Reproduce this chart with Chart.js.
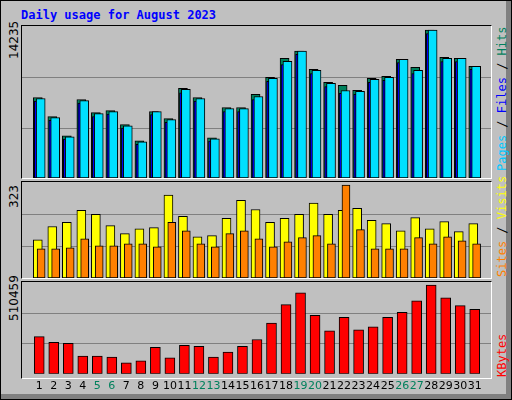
<!DOCTYPE html>
<html>
<head>
<meta charset="utf-8">
<script src="https://cdn.jsdelivr.net/npm/chart.js@4/dist/chart.umd.min.js"></script>
<style>
  body { margin: 0; background: #fff; }
  #box { position: relative; width: 510px; height: 398px; border: 1px solid #000; background: #c0c0c0;
         box-shadow: inset -5px -5px 0 #808080; overflow: hidden; }
  #title { position: absolute; left: 20px; top: 7px; font: bold 12px "DejaVu Sans Mono", monospace; color: #0000ff; }
  .panel { position: absolute; left: 20px; width: 469px; border-top: 1px solid #000; border-left: 1px solid #000;
           border-right: 1px solid #fff; border-bottom: 1px solid #fff; }
  canvas { display: block; }
  .vl { position: absolute; font: 12px "DejaVu Sans", sans-serif; white-space: nowrap;
        transform-origin: left top; transform: rotate(-90deg); }
  .vr { position: absolute; font: 12px "DejaVu Sans Mono", monospace; white-space: nowrap;
        transform-origin: left top; transform: rotate(-90deg); }
</style>
</head>
<body>
<div id="box">
  <div id="title">Daily usage for August 2023</div>

  <div class="panel" style="top:24px;height:152px"><canvas id="c1" width="469" height="152"></canvas></div>
  <div class="panel" style="top:180px;height:96px"><canvas id="c2" width="469" height="96"></canvas></div>
  <div class="panel" style="top:280px;height:96px"></div>
  <div style="position:absolute;left:21px;top:281px;width:469px;height:117px"><canvas id="c3" width="469" height="117"></canvas></div>

  <div class="vl" style="left:6px;top:58px">14235</div>
  <div class="vl" style="left:6px;top:207px">323</div>
  <div class="vl" style="left:6px;top:320px">510459</div>

  <div class="vr" style="left:494px;top:170px"><span style="color:#00c8ff">Pages</span> / <span style="color:#0000ff">Files</span> / <span style="color:#00805c">Hits</span></div>
  <div class="vr" style="left:494px;top:276px"><span style="color:#ff8000">Sites</span> / <span style="color:#ffff00">Visits</span></div>
  <div class="vr" style="left:494px;top:376px"><span style="color:#ff0000">KBytes</span></div>
</div>

<script>
const days = [1,2,3,4,5,6,7,8,9,10,11,12,13,14,15,16,17,18,19,20,21,22,23,24,25,26,27,28,29,30,31];
const weekendDays = [5,6,12,13,19,20,26,27];

const hits = [7747,5907,4067,7553,6294,6488,5132,3583,6391,5713,8618,7747,3873,6778,6778,8037,
              9684,11523,12201,10458,9199,8909,8425,9587,9780,11427,10652,14235,11620,11523,10749];
const files = [7650,5810,3970,7450,6190,6390,5030,3480,6391,5610,8520,7650,3780,6680,6680,7840,
               9590,11230,12201,10360,9100,8420,8330,9490,9680,11427,10360,14235,11520,11523,10749];
const pages = [7400,5550,3750,7200,5900,6150,4800,3250,6100,5350,8200,7400,3550,6400,6400,7550,
               9300,10900,11900,10050,8800,8150,8050,9200,9400,11100,10050,13900,11200,11200,10450];

const visits = [133,179,193,235,221,182,154,171,175,288,214,143,147,207,270,238,
                193,207,221,260,221,235,242,200,189,164,210,171,196,161,189];
const sites = [101,101,105,136,112,112,119,119,108,193,164,119,108,154,164,136,
               108,126,140,147,119,323,168,101,101,101,140,119,143,129,119];

const kbytes = [214245,180711,175122,102465,102465,96876,63342,74520,152766,91287,163944,158355,96876,124821,158355,197478,
                292491,398682,465750,337203,247779,326025,253368,270135,326025,353970,421038,510459,437805,393093,370737];

function pts(arr, shift) {
  return arr.map((v, i) => ({ x: days[i] + shift, y: v }));
}

function bar(label, data, color, thickness, order) {
  return {
    label: label,
    data: data,
    backgroundColor: color,
    borderColor: "#000",
    borderWidth: 1,
    borderSkipped: false,
    barThickness: thickness,
    grouped: false,
    order: order,
  };
}

function panelOptions(yMax, showDays) {
  return {
    responsive: false,
    animation: false,
    layout: { padding: 0 },
    plugins: { legend: { display: false }, tooltip: { enabled: false } },
    scales: {
      x: {
        type: "linear",
        min: 0.333,
        max: 31.6,
        display: showDays,
        grid: { display: false, drawTicks: false },
        border: { display: false },
        afterBuildTicks: (axis) => { axis.ticks = days.map((d) => ({ value: d })); },
        ticks: {
          autoSkip: false,
          maxRotation: 0,
          padding: 6,
          font: { family: "DejaVu Sans", size: 11 },
          color: (ctx) => (weekendDays.includes(ctx.tick.value) ? "#00805c" : "#000"),
          callback: (v) => String(v),
        },
      },
      y: {
        min: 0,
        max: yMax,
        display: true,
        grid: { color: "#808080", lineWidth: 1, drawTicks: false },
        border: { display: false },
        afterBuildTicks: (axis) => { axis.ticks = [{ value: yMax * 0.325 }, { value: yMax * 0.662 }]; },
        ticks: { display: false },
      },
    },
  };
}

new Chart(document.getElementById("c1"), {
  type: "bar",
  data: {
    datasets: [
      bar("Files", pts(files, 0.1), "#00e0ff", 9, 1),
      bar("Pages", pts(pages, -0.03), "#0000ff", 9, 2),
      bar("Hits", pts(hits, -0.1), "#00805c", 9, 3),
    ],
  },
  options: panelOptions(14622, false),
});

new Chart(document.getElementById("c2"), {
  type: "bar",
  data: {
    datasets: [
      bar("Sites", pts(sites, 0.13), "#ff8000", 8, 1),
      bar("Visits", pts(visits, -0.1), "#ffff00", 9, 2),
    ],
  },
  options: panelOptions(333.5, false),
});

new Chart(document.getElementById("c3"), {
  type: "bar",
  data: {
    datasets: [bar("KBytes", pts(kbytes, 0), "#ff0000", 10, 1)],
  },
  options: panelOptions(528830, true),
});
</script>
</body>
</html>
